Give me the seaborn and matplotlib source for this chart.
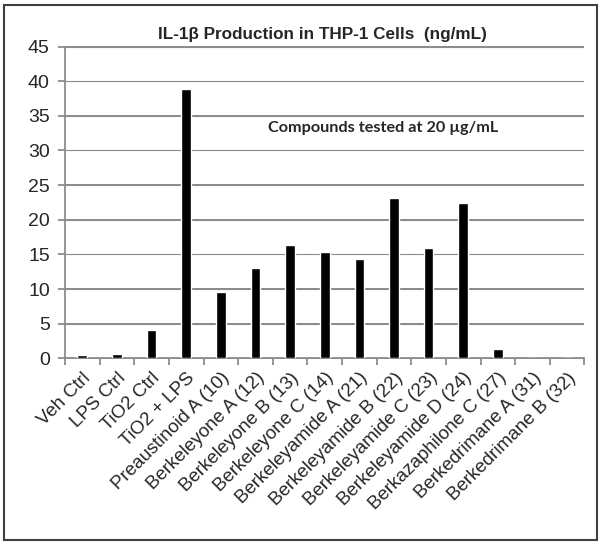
import numpy as np
import pandas as pd
import seaborn as sns
import matplotlib
matplotlib.use('Agg')
import matplotlib.pyplot as plt
from matplotlib.patches import Rectangle

samples = ['Veh Ctrl', 'LPS Ctrl', 'TiO2 Ctrl', 'TiO2 + LPS', 'Preaustinoid A (10)',
           'Berkeleyone A (12)', 'Berkeleyone B (13)', 'Berkeleyone C (14)',
           'Berkeleyamide A (21)', 'Berkeleyamide B (22)', 'Berkeleyamide C (23)',
           'Berkeleyamide D (24)', 'Berkazaphilone C (27)', 'Berkedrimane A (31)',
           'Berkedrimane B (32)']
il1b = [0.5, 0.6, 4.1, 38.9, 9.6, 13.1, 16.3, 15.4, 14.3, 23.2, 15.9, 22.4, 1.3, 0.0, 0.0]
y_ticks = [0, 5, 10, 15, 20, 25, 30, 35, 40, 45]

df = pd.DataFrame({'sample': samples, 'ng/mL': il1b})

sns.set_style('whitegrid', {'grid.color': '#8c8c8c'})
plt.rcParams['font.family'] = ['Liberation Sans', 'DejaVu Sans']

fig = plt.figure(figsize=(6.01, 5.46), dpi=100)
ax = fig.add_axes([0.1082, 0.3438, 0.8643, 0.571])

sns.barplot(data=df, x='sample', y='ng/mL', color='black', width=0.28, ax=ax, zorder=3)

ax.set_ylim(0, 45)
ax.set_xlim(-0.5, len(samples) - 0.5)
ax.set_yticks(y_ticks)
ax.set_xlabel('')
ax.set_ylabel('')

# gridlines as thin bands at each y tick (line artists did not show up)
for yt in y_ticks:
    ax.axhspan(yt - 0.095, yt + 0.095, color='#8c8c8c', linewidth=0, zorder=1, clip_on=False)

for s in ['top', 'right']:
    ax.spines[s].set_visible(False)
for s in ['left', 'bottom']:
    ax.spines[s].set_color('#8c8c8c')
    ax.spines[s].set_linewidth(1.3)

ax.tick_params(axis='y', left=True, length=5, width=1.3, color='#8c8c8c', pad=6, labelsize=14)
ax.set_xticks(range(len(samples)))
ax.set_xticklabels(samples, rotation=45, ha='right', rotation_mode='anchor', fontsize=13.5)
ax.tick_params(axis='x', which='major', length=0, pad=8)
ax.set_xticks(np.arange(-0.5, len(samples)), minor=True)
ax.tick_params(axis='x', which='minor', bottom=True, length=5, width=1.3, color='#8c8c8c')

fig.text(0.536, 0.936, 'IL-1\u03b2 Production in THP-1 Cells  (ng/mL)',
         ha='center', va='center', fontsize=12.3, fontweight='bold')
ax.text(0.612, 0.738, 'Compounds tested at 20 \u00b5g/mL', transform=ax.transAxes,
        ha='center', va='center', fontsize=11.7, fontweight='bold', family=['Lato', 'DejaVu Sans'])

fig.patches.append(Rectangle((4 / 601, 6 / 546), 593 / 601, 535 / 546,
                             transform=fig.transFigure, fill=False,
                             edgecolor='#404040', linewidth=1.5))

fig.savefig('out.png', dpi=100)
